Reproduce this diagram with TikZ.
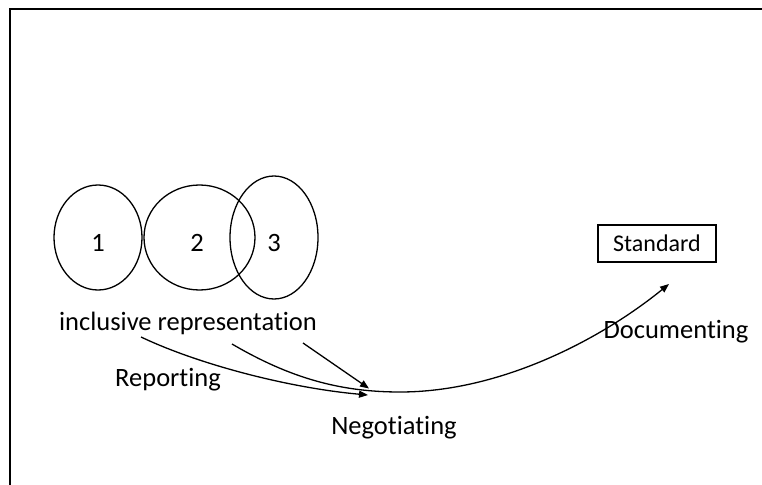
\documentclass[tikz,border=0pt]{standalone}
\usepackage{fontspec}
\setmainfont{Carlito}[Ligatures={NoCommon}]
\usetikzlibrary{arrows.meta}
\begin{document}
\begin{tikzpicture}[x=1pt,y=-1pt,
  line width=1.3pt,
  lbl/.style={inner sep=0pt, font=\fontsize{26.5}{30}\selectfont},
  arr/.style={-{Triangle[length=9pt,width=7pt]}},
  oval/.style={draw, line width=1.3pt}]
\useasboundingbox (0,0) rectangle (762,484);
\draw[line width=2pt] (9.5,490) -- (9.5,9.5) -- (770,9.5);
% ovals
\draw[oval] (98,237.5) ellipse [x radius=44, y radius=52.5];
\draw[oval] (199.5,237.5) ellipse [x radius=55.5, y radius=52.5];
\draw[oval] (274,237.5) ellipse [x radius=44, y radius=61.5];
\node[lbl] (n1) at (98,243) {1};
\node[lbl] (n2) at (197,243) {2};
\node[lbl] (n3) at (274,243) {3};
\node[lbl] (inc) at (188,323) {inclusive representation};
% standard box
\node[draw, line width=1.3pt, minimum width=118pt, minimum height=37pt, inner sep=0pt, font=\fontsize{24}{28}\selectfont] (std) at (657,243.5) {Standard};
\node[lbl] (rep) at (168,380) {Reporting};
\node[lbl] (neg) at (394,428) {Negotiating};
\node[lbl] (doc) at (676,332) {Documenting};
% connectors
\coordinate (s1) at (141,337);
\coordinate (s2) at (232,344);
\coordinate (s3) at (303,343);
\coordinate (e1) at (368,395);
\coordinate (e3) at (369,388.5);
\coordinate (m) at (400,392);
\coordinate (e2) at (669,284);
\draw[arr] (s1) .. controls (200,365) and (290,388) .. (e1);
\draw[arr] (s3) -- (e3);
\draw[arr] (s2) .. controls (290,378) and (340,392) .. (m) .. controls (500,392) and (600,340) .. (e2);
\end{tikzpicture}
\end{document}
